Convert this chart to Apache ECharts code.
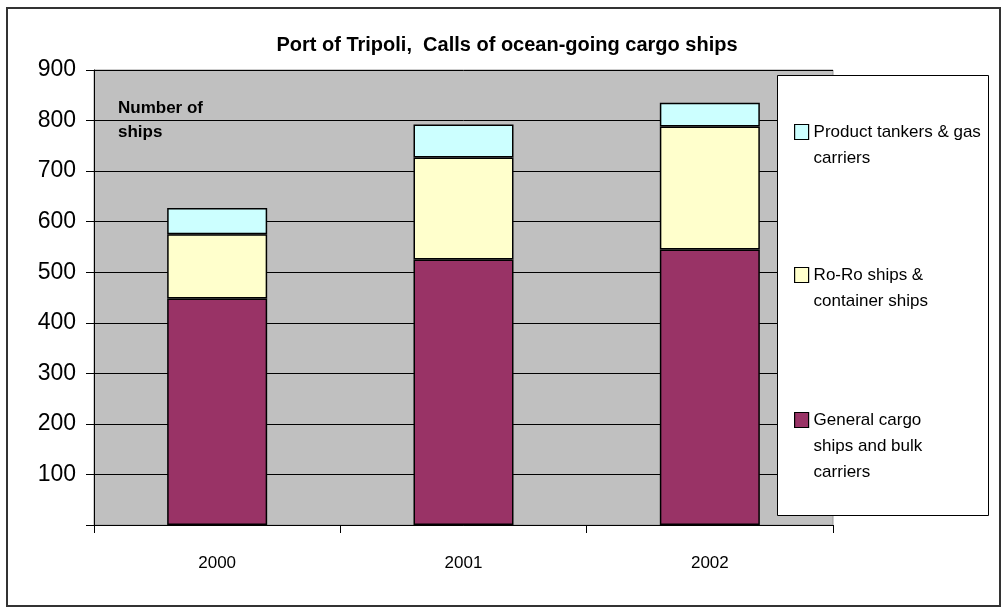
<!DOCTYPE html>
<html>
<head>
<meta charset="utf-8">
<script src="https://cdn.jsdelivr.net/npm/echarts@6/dist/echarts.min.js"></script>
<style>
  html, body { margin: 0; padding: 0; background: #fff; }
  #chart { width: 1008px; height: 614px; }
</style>
</head>
<body>
<div id="chart"></div>
<script>
const years = ['2000', '2001', '2002'];
const generalCargo = [448, 525, 545];
const roRo = [127, 202, 243];
const tankers = [52, 65, 47];
const yTicks = [0, 100, 200, 300, 400, 500, 600, 700, 800, 900];

const NAME_GENERAL = 'General cargo\nships and bulk\ncarriers';
const NAME_RORO = 'Ro-Ro ships &\ncontainer ships';
const NAME_TANKERS = 'Product tankers & gas\ncarriers';

const FONT = '"Liberation Sans", Arial, sans-serif';
const LH = 26;

const chart = echarts.init(document.getElementById('chart'), null, { renderer: 'canvas' });

// the icon sits on the middle of the label, so pad the label with blank
// lines above to bring the first line level with the icon
function legendAt(name, top) {
    const lines = name.split('\n').length;
    return {
        z: 10,
        left: 794,
        top: top,
        orient: 'vertical',
        selectedMode: false,
        itemWidth: 14,
        itemHeight: 15,
        itemGap: 0,
        padding: 0,
        icon: 'rect',
        itemStyle: { borderColor: '#000', borderWidth: 1.2 },
        formatter: (n) => '\n'.repeat(lines - 1) + n,
        textStyle: {
            fontFamily: FONT,
            fontSize: 17,
            color: '#000',
            lineHeight: LH,
        },
        data: [name],
    };
}

function barSeries(name, data, color) {
    return {
        name: name,
        type: 'bar',
        stack: 'calls',
        barWidth: 100,
        data: data,
        itemStyle: { color: color, borderColor: '#000', borderWidth: 1.5 },
    };
}

chart.setOption({
    animation: false,
    backgroundColor: '#fff',
    title: {
        text: 'Port of Tripoli,  Calls of ocean-going cargo ships',
        left: 502,
        top: 30,
        textAlign: 'center',
        textStyle: { fontFamily: FONT, fontSize: 20, fontWeight: 'bold', color: '#000' },
    },
    legend: [
        legendAt(NAME_TANKERS, 93),
        legendAt(NAME_RORO, 236),
        legendAt(NAME_GENERAL, 355),
    ],
    grid: {
        left: 94,
        right: 175,
        top: 70,
        bottom: 89,
        show: true,
        backgroundColor: '#c0c0c0',
        borderColor: '#9a9a9a',
        borderWidth: 1,
    },
    xAxis: {
        type: 'category',
        data: years,
        axisLine: { lineStyle: { color: '#000', width: 1 } },
        axisTick: { show: true, length: 8, interval: 0, lineStyle: { color: '#000' } },
        axisLabel: { margin: 30, fontFamily: FONT, fontSize: 17, color: '#000' },
        splitLine: { show: false },
    },
    yAxis: {
        type: 'value',
        min: yTicks[0],
        max: yTicks[yTicks.length - 1],
        interval: 100,
        axisLine: { show: true, lineStyle: { color: '#000', width: 1 } },
        axisTick: { show: true, length: 8, lineStyle: { color: '#000' } },
        axisLabel: {
            margin: 18,
            fontFamily: FONT,
            fontSize: 23,
            color: '#000',
            formatter: (v) => (v === 0 ? '' : String(v)),
        },
        splitLine: { show: true, lineStyle: { color: '#000', width: 1 } },
    },
    graphic: [
        {
            type: 'rect',
            z: -1,
            silent: true,
            shape: { x: 7, y: 8, width: 993, height: 598 },
            style: { fill: 'none', stroke: '#333', lineWidth: 2 },
        },
        {
            type: 'rect',
            z: 5,
            silent: true,
            shape: { x: 777.5, y: 75.5, width: 211, height: 440 },
            style: { fill: '#fff', stroke: '#000', lineWidth: 1 },
        },
        {
            type: 'text',
            z: 5,
            left: 118,
            top: 96,
            style: {
                text: 'Number of\nships',
                fontFamily: FONT,
                fontSize: 17,
                fontWeight: 'bold',
                lineHeight: 24,
                fill: '#000',
            },
        },
    ],
    series: [
        barSeries(NAME_GENERAL, generalCargo, '#993366'),
        barSeries(NAME_RORO, roRo, '#ffffcc'),
        barSeries(NAME_TANKERS, tankers, '#ccffff'),
    ],
});
</script>
</body>
</html>
